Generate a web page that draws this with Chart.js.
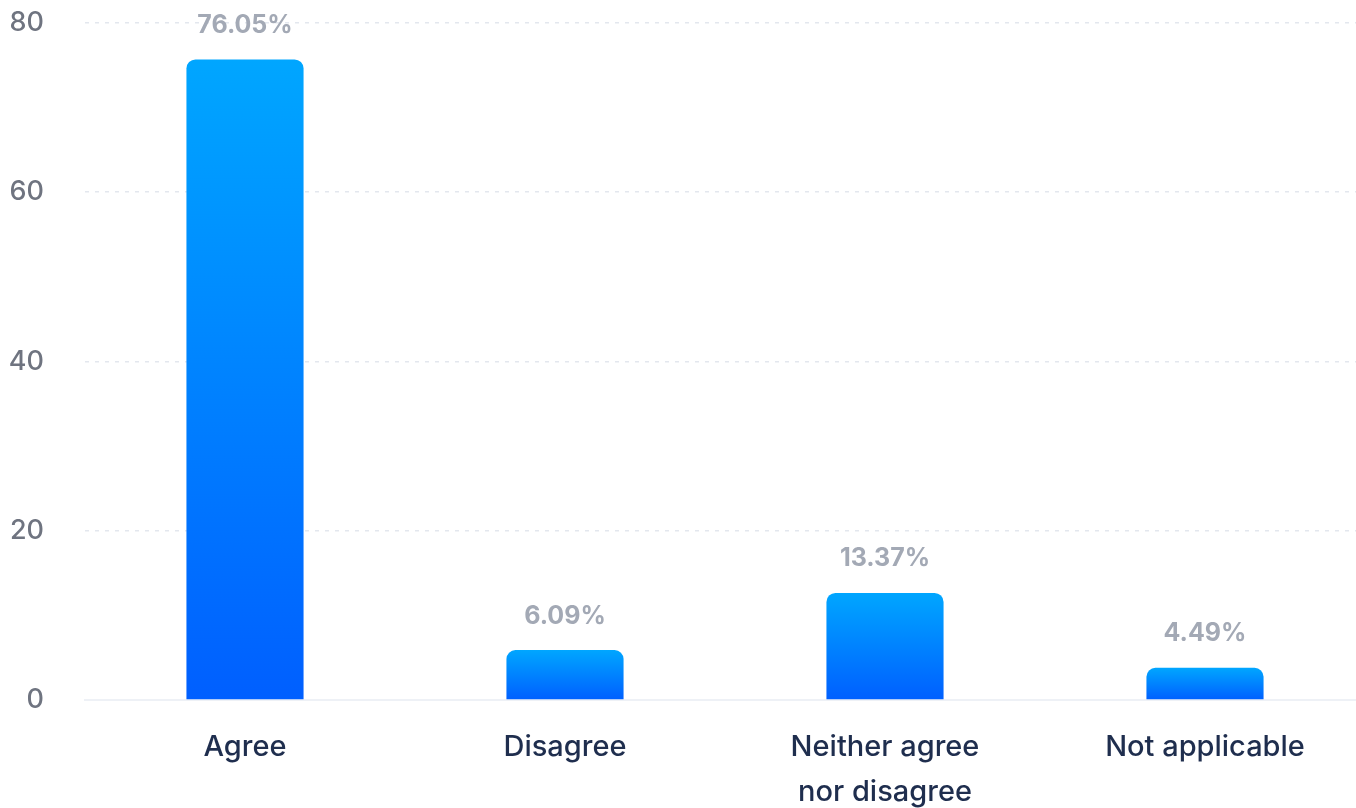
<!DOCTYPE html>
<html>
<head>
<meta charset="utf-8">
<script src="https://cdn.jsdelivr.net/npm/chart.js@4.4.1/dist/chart.umd.min.js"></script>
<style>
  html, body { margin: 0; padding: 0; background: #fff; overflow: hidden; }
  #wrap { width: 1365px; height: 808px; }
</style>
</head>
<body>
<div id="wrap"><canvas id="BarChart"></canvas></div>
<script>
// chart data (bar heights as drawn, labels as printed)
const categories = ["Agree", "Disagree", ["Neither agree", "nor disagree"], "Not applicable"];
const values = [75.7, 5.9, 12.65, 3.8];
const valueLabels = ["76.05%", "6.09%", "13.37%", "4.49%"];
const yTicks = [0, 20, 40, 60, 80];

const fontFamily = "Inter, 'Noto Sans', sans-serif";

// gradient for each bar, from its top to the baseline
function barGradient(ctx){
    const chart = ctx.chart;
    const area = chart.chartArea;
    if(!area) return "#0a84ff";
    const yScale = chart.scales.y;
    const top = yScale.getPixelForValue(ctx.raw);
    const g = chart.ctx.createLinearGradient(0, top, 0, area.bottom);
    g.addColorStop(0, "#00a6ff");
    g.addColorStop(1, "#005fff");
    return g;
}

// draw the percentage above each bar
const valueLabelPlugin = {
    id: "valueLabels",
    afterDatasetsDraw(chart){
        const c = chart.ctx;
        const meta = chart.getDatasetMeta(0);
        c.save();
        c.font = "700 25px " + fontFamily;
        c.fillStyle = "#a3a9b5";
        c.textAlign = "center";
        c.textBaseline = "middle";
        meta.data.forEach((bar, i) => {
            c.fillText(valueLabels[i], bar.x, bar.y - 34);
        });
        c.restore();
    }
};

var config = {
    type: "bar",
    data: {
        labels: categories,
        datasets: [{
            data: values,
            backgroundColor: barGradient,
            borderRadius: { topLeft: 9, topRight: 9 },
            borderSkipped: "bottom",
            categoryPercentage: 1,
            barPercentage: 0.366
        }]
    },
    options: {
        responsive: true,
        maintainAspectRatio: false,
        animation: false,
        layout: { padding: { top: 23, right: 0, left: 0, bottom: 0 } },
        plugins: {
            legend: { display: false },
            tooltip: { enabled: false }
        },
        scales: {
            x: {
                grid: { display: false },
                border: { display: true, color: "#eef1f6", width: 2 },
                ticks: {
                    color: "#1f2e4e",
                    font: { family: fontFamily, size: 29, weight: "500", lineHeight: 1.55 },
                    padding: 17,
                    maxRotation: 0
                },
                afterFit(scale){ scale.height = 108; }
            },
            y: {
                min: 0,
                max: 80,
                afterBuildTicks(scale){
                    scale.ticks = yTicks.map(v => ({ value: v }));
                },
                grid: {
                    color: "#e3e7ee",
                    lineWidth: 1.6,
                    drawTicks: false
                },
                border: { display: false, dash: [4, 6] },
                ticks: {
                    color: "#6f7480",
                    font: { family: fontFamily, size: 27, weight: "500" },
                    padding: 41
                },
                afterFit(scale){
                    scale.width = 85;
                    // keep the tick padding from pushing the plot area down
                    scale.paddingTop = 0;
                    scale.paddingBottom = 0;
                }
            }
        }
    },
    plugins: [valueLabelPlugin]
};

window.myBar = new Chart(document.getElementById("BarChart"), config);
</script>
</body>
</html>
